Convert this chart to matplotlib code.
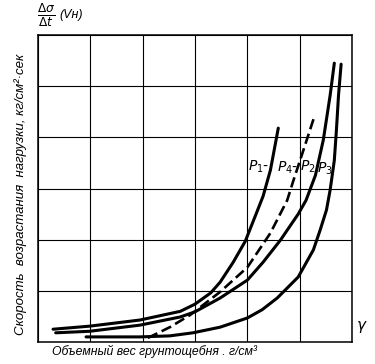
import matplotlib.pyplot as plt

# curves, in grid units (6 x 6 cells)
p1_x = [0.29, 0.99, 1.95, 2.72, 3.00, 3.30, 3.48, 3.73, 3.96, 4.15, 4.30, 4.44, 4.53, 4.59]
p1_y = [0.25, 0.31, 0.43, 0.60, 0.74, 0.96, 1.17, 1.56, 1.97, 2.46, 2.85, 3.36, 3.85, 4.18]

p2_x = [0.34, 0.99, 1.95, 2.72, 3.00, 3.48, 4.00, 4.30, 4.63, 4.97, 5.12, 5.30, 5.45, 5.58, 5.66]
p2_y = [0.18, 0.21, 0.33, 0.49, 0.59, 0.86, 1.21, 1.56, 1.99, 2.50, 2.77, 3.26, 3.95, 4.82, 5.45]

p4_x = [2.10, 2.52, 2.91, 3.48, 4.00, 4.44, 4.76, 4.88, 5.07, 5.28]
p4_y = [0.08, 0.29, 0.53, 0.98, 1.46, 2.13, 2.77, 3.16, 3.75, 4.41]

p3_x = [0.92, 1.95, 2.52, 2.96, 3.48, 4.00, 4.28, 4.57, 4.97, 5.26, 5.39, 5.51, 5.58, 5.66, 5.70, 5.74, 5.79]
p3_y = [0.10, 0.10, 0.12, 0.18, 0.29, 0.47, 0.63, 0.86, 1.27, 1.80, 2.19, 2.58, 2.97, 3.55, 4.14, 4.82, 5.43]

labels = ['$P_1$-', '$P_4$-', '$P_2$', '$P_3$']
label_x = [4.02, 4.57, 5.00, 5.33]
label_y = [3.42, 3.40, 3.42, 3.38]

fam = 'Liberation Sans'
plt.rcParams['mathtext.fontset'] = 'dejavusans'

fig = plt.figure(figsize=(3.75, 3.64), dpi=100)
ax = fig.add_axes([0.101, 0.0604, 0.838, 0.8434])

ax.plot(p1_x, p1_y, color='black', lw=2.2, solid_capstyle='round')
ax.plot(p2_x, p2_y, color='black', lw=2.2, solid_capstyle='round')
ax.plot(p3_x, p3_y, color='black', lw=2.2, solid_capstyle='round')
ax.plot(p4_x, p4_y, color='black', lw=1.9, dashes=(4, 1.8))

for lab, lx, ly in zip(labels, label_x, label_y):
    ax.text(lx, ly, lab, fontsize=10, style='italic', ha='left', va='center')

ax.set_xlim(0, 6)
ax.set_ylim(0, 6)
ax.set_xticks(range(7))
ax.set_yticks(range(7))
ax.tick_params(length=0, labelbottom=False, labelleft=False)
ax.grid(True, color='black', lw=0.8)
for s in ax.spines.values():
    s.set_linewidth(1.1)

ax.set_xlabel('Объемный вес грунтощебня . г/см³', family=fam, fontstretch='condensed',
              style='italic', fontsize=8.8, labelpad=2, x=0.37)
ax.set_ylabel('Скорость  возрастания  нагрузки, кг/см²·сек', family=fam,
              fontstretch='condensed', style='italic', fontsize=9.5, labelpad=8, y=0.48)

fig.text(0.098, 0.958, r'$\frac{\Delta\sigma}{\Delta t}$', fontsize=12.5,
         ha='left', va='center')
fig.text(0.158, 0.958, '(Vн)', family=fam, fontstretch='condensed', style='italic',
         fontsize=9, ha='left', va='center')
fig.text(0.952, 0.105, 'γ', fontsize=11, style='italic', ha='left', va='center')

fig.savefig('out.png', dpi=100)
